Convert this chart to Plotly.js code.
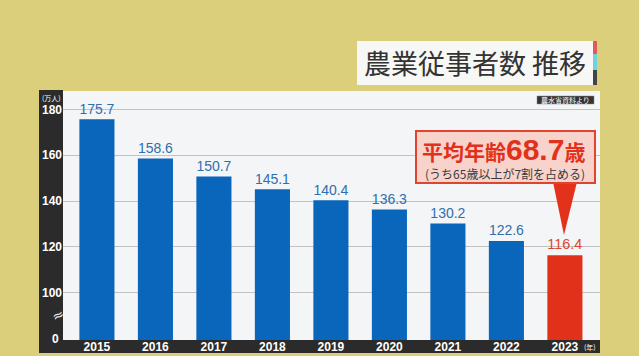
<!DOCTYPE html>
<html>
<head>
<meta charset="utf-8">
<script src="https://cdn.plot.ly/plotly-3.0.1.min.js"></script>
<style>
html,body{margin:0;padding:0;background:#dccf7c;}
#chart{width:639px;height:356px;}
</style>
</head>
<body>
<div id="chart"></div>
<script>
// ---- data ----
const years = ['2015','2016','2017','2018','2019','2020','2021','2022','2023'];
const workers = [175.7, 158.6, 150.7, 145.1, 140.4, 136.3, 130.2, 122.6, 116.4]; // 万人
const yTickVals = [100, 120, 140, 160, 180];
const yTickText = ['100', '120', '140', '160', '180'];
const highlightYear = '2023';
const titleText = '農業従事者数 推移';
const sourceText = '農水省資料より';
const unitText = '(万人)';
const yearUnitText = '(年)';
const calloutAge = '68.7';
const calloutLine2 = '(うち65歳以上が7割を占める)';

// ---- styles ----
const BLUE = '#0a66bb', RED = '#e2311a';
const BLUE_TXT = '#2f6fae', RED_TXT = '#e0442a';
const DARK = '#2b2b2b';
const barColors = years.map(y => y === highlightYear ? RED : BLUE);
const txtColors = years.map(y => y === highlightYear ? RED_TXT : BLUE_TXT);

// pixel -> paper helpers (plot area: x 63..600, y 91..340)
const L = 63, R = 600, T = 91, B = 340;
const px = p => (p - L) / (R - L);
const py = p => (B - p) / (B - T);

const trace = {
  type: 'bar',
  x: years,
  y: workers,
  marker: {color: barColors, line: {width: 0}},
  text: workers.map(v => v.toFixed(1)),
  texttemplate: '%{text}',
  textposition: 'outside',
  cliponaxis: false,
  textfont: {family: 'Liberation Sans, Arial, sans-serif', size: 16, color: txtColors},
  hoverinfo: 'skip'
};

const shapes = [
  // left dark axis strip
  {type:'rect', xref:'paper', yref:'paper', x0:px(39), x1:px(63), y0:py(353), y1:py(90), fillcolor:DARK, line:{width:0}, layer:'below'},
  // bottom dark axis strip
  {type:'rect', xref:'paper', yref:'paper', x0:px(39), x1:px(600), y0:py(353), y1:py(340), fillcolor:DARK, line:{width:0}, layer:'below'},
  // title box
  {type:'rect', xref:'paper', yref:'paper', x0:px(357), x1:px(593), y0:py(85), y1:py(41), fillcolor:'#f7f7f5', line:{width:0}, layer:'below'},
  {type:'rect', xref:'paper', yref:'paper', x0:px(593), x1:px(597), y0:py(54), y1:py(41), fillcolor:'#e05a5a', line:{width:0}, layer:'below'},
  {type:'rect', xref:'paper', yref:'paper', x0:px(593), x1:px(597), y0:py(70), y1:py(54), fillcolor:'#6fd0e0', line:{width:0}, layer:'below'},
  {type:'rect', xref:'paper', yref:'paper', x0:px(593), x1:px(597), y0:py(85), y1:py(70), fillcolor:'#444444', line:{width:0}, layer:'below'},
  // source tag
  {type:'rect', xref:'paper', yref:'paper', x0:px(537), x1:px(594), y0:py(104), y1:py(96), fillcolor:'#333333', line:{color:'#888', width:0.5}, layer:'above'},
  // callout pointer
  {type:'path', xref:'paper', yref:'paper', layer:'above',
   path:`M ${px(553)} ${py(182)} L ${px(577)} ${py(182)} L ${px(564)} ${py(235)} Z`,
   fillcolor:'#e2321c', line:{width:0}},
  // callout box
  {type:'rect', xref:'paper', yref:'paper', x0:px(416), x1:px(595), y0:py(183), y1:py(131), fillcolor:'#f7d3cc', line:{color:'#e0442e', width:2}, layer:'above'}
];

const annotations = [
  {xref:'paper', yref:'paper', x:px(475), y:py(63), text:titleText, showarrow:false,
   font:{family:'Noto Sans CJK JP, sans-serif', size:27, color:'#333333'}, xanchor:'center', yanchor:'middle'},
  {xref:'paper', yref:'paper', x:px(565.5), y:py(100), text:sourceText, showarrow:false,
   font:{family:'Noto Sans CJK JP, sans-serif', size:7, color:'#ffffff'}, xanchor:'center', yanchor:'middle'},
  {xref:'paper', yref:'paper', x:px(51), y:py(97.5), text:unitText, showarrow:false,
   font:{family:'Noto Sans CJK JP, sans-serif', size:7, color:'#ffffff'}, xanchor:'center', yanchor:'middle'},
  {xref:'paper', yref:'paper', x:px(61), y:py(338.5), text:'0', showarrow:false,
   font:{family:'Liberation Sans, Arial, sans-serif', size:12, color:'#ffffff', weight:'bold'}, xanchor:'right', yanchor:'middle'},
  {xref:'paper', yref:'paper', x:px(58), y:py(315), text:'≈', showarrow:false, textangle:-25,
   font:{family:'DejaVu Sans, sans-serif', size:14, color:'#e6e6e6'}, xanchor:'center', yanchor:'middle'},
  {xref:'paper', yref:'paper', x:px(582), y:py(347), text:yearUnitText, showarrow:false,
   font:{family:'Noto Sans CJK JP, sans-serif', size:7, color:'#ffffff'}, xanchor:'left', yanchor:'middle'},
  {xref:'paper', yref:'paper', x:px(503), y:py(149), showarrow:false, xanchor:'center', yanchor:'middle',
   text:'<b>平均年齢</b><b><span style="font-size:30px;font-family:Liberation Sans, Arial">' + calloutAge + '</span></b><b>歳</b>',
   font:{family:'Noto Sans CJK JP, sans-serif', size:21, color:'#e2311a'}},
  {xref:'paper', yref:'paper', x:px(505), y:py(173), showarrow:false, xanchor:'center', yanchor:'middle',
   text:calloutLine2,
   font:{family:'Noto Sans CJK JP, sans-serif', size:12, color:'#3a3a3a'}}
];

const layout = {
  width: 639, height: 356,
  margin: {l: L, r: 639 - R, t: T, b: 356 - B, pad: 0},
  paper_bgcolor: '#dccf7c',
  plot_bgcolor: '#f3f5f6',
  showlegend: false,
  bargap: 0.4,
  xaxis: {
    type: 'category', range: [-0.58, 8.6], fixedrange: true,
    showgrid: false, zeroline: false, showline: false, ticks: '',
    tickfont: {family: 'Liberation Sans, Arial, sans-serif', size: 12, color: '#ffffff', weight: 'bold'},
    ticklabelstandoff: -2
  },
  yaxis: {
    range: [79.4, 188], fixedrange: true,
    tickvals: yTickVals, ticktext: yTickText,
    showgrid: true, gridcolor: '#c2c2c2', gridwidth: 1,
    zeroline: false, showline: false, ticks: '',
    tickfont: {family: 'Liberation Sans, Arial, sans-serif', size: 12, color: '#ffffff', weight: 'bold'},
    ticklabelstandoff: 0
  },
  shapes: shapes,
  annotations: annotations
};

Plotly.newPlot('chart', [trace], layout, {displayModeBar: false, staticPlot: true});
</script>
</body>
</html>
